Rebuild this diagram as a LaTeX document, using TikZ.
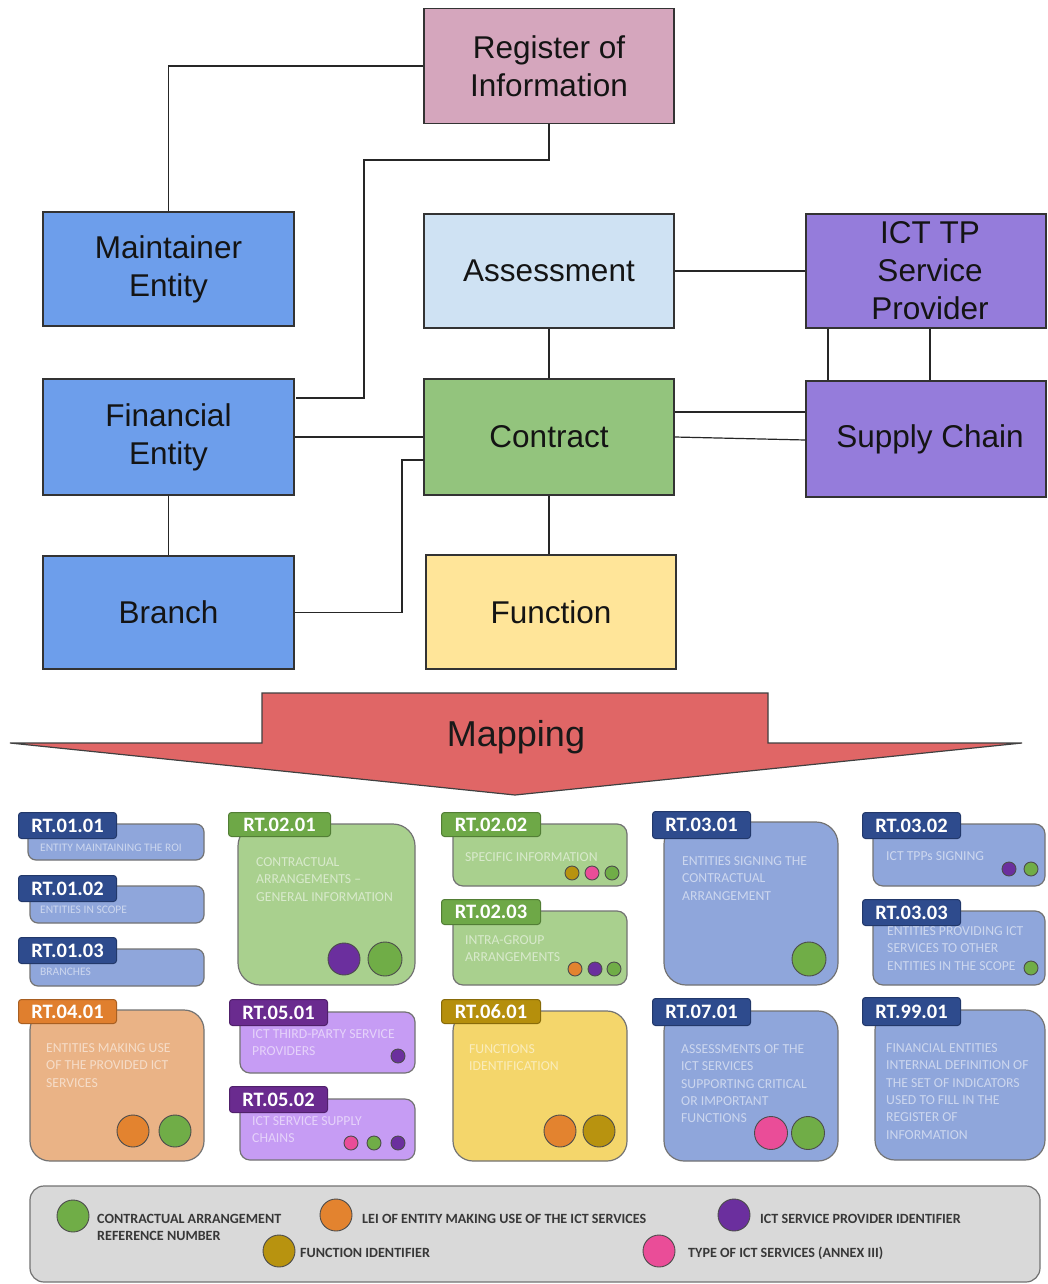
\documentclass[tikz,border=0pt]{standalone}
\usepackage{fontspec}
\setmainfont{Liberation Sans}
\newfontfamily\cardfont{Carlito}
\definecolor{regpink}{HTML}{D5A6BD}
\definecolor{boxblue}{HTML}{6D9EEB}
\definecolor{assessblue}{HTML}{CFE2F3}
\definecolor{contractgreen}{HTML}{93C47D}
\definecolor{funcyellow}{HTML}{FFE599}
\definecolor{ictpurple}{HTML}{957CDB}
\definecolor{arrowred}{HTML}{E06666}
\definecolor{cardblue}{HTML}{8FA6DB}
\definecolor{tagblue}{HTML}{2E4B8D}
\definecolor{cardgreen}{HTML}{A9D08E}
\definecolor{taggreen}{HTML}{6EA847}
\definecolor{cardorange}{HTML}{EAB386}
\definecolor{tagorange}{HTML}{E07F2E}
\definecolor{cardpurple}{HTML}{C69CF4}
\definecolor{tagpurple}{HTML}{6A2B8F}
\definecolor{cardyellow}{HTML}{F4D66B}
\definecolor{tagyellow}{HTML}{B58F0C}
\definecolor{cgreen}{HTML}{70AD47}
\definecolor{corange}{HTML}{E3832F}
\definecolor{cpurple}{HTML}{6B2F9E}
\definecolor{cgold}{HTML}{B8930F}
\definecolor{cpink}{HTML}{EA4D98}
\definecolor{legendgray}{HTML}{D9D9D9}
\begin{document}
\begin{tikzpicture}[x=1pt,y=-1pt,
  mainbox/.style={draw=black!80, line width=1.3pt, minimum width=250pt, minimum height=115pt, inner sep=0pt, align=center, text=black!92, font=\fontsize{31.5}{38}\selectfont},
  conn/.style={draw=black!85, line width=1.2pt},
  card/.style={draw=black!55, line width=1.2pt, inner sep=0pt},
  tagbox/.style={draw=#1!75!black, fill=#1, line width=1pt, rounded corners=3pt, minimum width=98pt, minimum height=26pt, inner sep=0pt, text=white, font=\cardfont\bfseries\fontsize{20.5}{20.5}\selectfont, anchor=north west},
  ctext/.style={text=white, text opacity=0.55, font=\cardfont\fontsize{13.7}{17.3}\selectfont, align=left, inner sep=0pt, anchor=north west},
  stext/.style={ctext, font=\cardfont\fontsize{11.5}{12}\selectfont},
  dot/.style={circle, draw=black!70, line width=0.9pt, fill=#1, inner sep=0pt},
  bigdot/.style={dot=#1, minimum size=32pt},
  smalldot/.style={dot=#1, minimum size=14pt},
  ltext/.style={text=black!78, font=\cardfont\bfseries\fontsize{14.1}{17}\selectfont, align=left, inner sep=0pt, anchor=west}
]
\useasboundingbox (0,0) rectangle (1047,1284);
\fill[white] (0,0) rectangle (1047,1284);

% ---------- top diagram ----------
\node[mainbox, fill=regpink] (reg) at (549,66) {Register of\\Information};
\node[mainbox, fill=boxblue, minimum width=251pt, minimum height=114pt] (maint) at (168.5,269) {Maintainer\\Entity};
\node[mainbox, fill=boxblue, minimum width=251pt, minimum height=116pt] (fin) at (168.5,437) {Financial\\Entity};
\node[mainbox, fill=boxblue, minimum width=251pt, minimum height=113pt] (branch) at (168.5,612.5) {Branch};
\node[mainbox, fill=assessblue, minimum height=114pt] (assess) at (549,271) {Assessment};
\node[mainbox, fill=contractgreen, minimum height=116pt] (contract) at (549,437) {Contract};
\node[mainbox, fill=funcyellow, minimum height=114pt] (func) at (551,612) {Function};
\node[mainbox, fill=ictpurple, minimum width=240pt, minimum height=114pt] (ict) at (926,271) {\hspace*{8pt}ICT TP\\\hspace*{8pt}Service\\\hspace*{8pt}Provider};
\node[mainbox, fill=ictpurple, minimum width=240pt, minimum height=116pt] (supply) at (926,439) {\hspace*{8pt}Supply Chain};

\coordinate (r1) at (549,160);
\coordinate (r2) at (364,160);
\coordinate (r3) at (364,398);
\coordinate (r4) at (296,398);
\coordinate (b1) at (402,612.5);
\coordinate (b2) at (402,460);
\coordinate (b3) at (424,460);

\draw[conn] (reg.west) -| (maint.north);
\draw[conn] (reg.south) -- (r1) -- (r2) -- (r3) -- (r4);
\draw[conn] (assess.south) -- (contract.north);
\draw[conn] (assess.east) -- (ict.west);
\draw[conn] (fin.east) -- (contract.west);
\draw[conn] (branch.east) -- (b1) -- (b2) -- (b3);
\draw[conn] (contract.south) -- (contract.south |- func.north);
\draw[conn] (fin.south) -- (branch.north);
\draw[conn] ([yshift=25pt]contract.east) -- ([yshift=27pt]supply.west);
\draw[conn] (contract.east) -- ([yshift=-1pt]supply.west);
\draw[conn] ([xshift=-98pt]ict.south) -- ([xshift=-98pt]supply.north);
\draw[conn] ([xshift=4pt]ict.south) -- ([xshift=4pt]supply.north);

% ---------- mapping arrow ----------
\path[draw=black!75, fill=arrowred, line width=1.2pt, line join=miter]
  (262,693) -- (768,693) -- (768,743) -- (1022,743) -- (515,795) -- (10,743) -- (262,743) -- cycle;
\node[anchor=base, inner sep=0pt, font=\fontsize{36}{36}\selectfont, text=black!90] (map) at (516,746) {Mapping};

% ---------- cards ----------
% column 1
\node[card, fill=cardblue, rounded corners=8pt, minimum width=176pt, minimum height=36pt] (k0101) at (116,842) {};
\node[tagbox=tagblue] (t0101) at (18,812) {RT.01.01};
\node[stext] (x0101) at (40,844) {ENTITY MAINTAINING THE ROI};

\node[card, fill=cardblue, rounded corners=8pt, minimum width=174pt, minimum height=37pt] (k0102) at (117,904.5) {};
\node[tagbox=tagblue] (t0102) at (18,875) {RT.01.02};
\node[stext] (x0102) at (40,906) {ENTITIES IN SCOPE};

\node[card, fill=cardblue, rounded corners=8pt, minimum width=174pt, minimum height=37pt] (k0103) at (117,967.5) {};
\node[tagbox=tagblue] (t0103) at (18,937) {RT.01.03};
\node[stext] (x0103) at (40,968) {BRANCHES};

\node[card, fill=cardorange, rounded corners=20pt, minimum width=174pt, minimum height=151pt] (k0401) at (117,1085.5) {};
\node[tagbox=tagorange, minimum height=24pt] (t0401) at (18,999) {RT.04.01};
\node[ctext] (x0401) at (46,1043.5) {ENTITIES MAKING USE\\OF THE PROVIDED ICT\\SERVICES};
\node[bigdot=corange] (d0401a) at (133,1131) {};
\node[bigdot=cgreen] (d0401b) at (175,1131) {};

% column 2
\node[card, fill=cardgreen, rounded corners=22pt, minimum width=177pt, minimum height=161pt] (k0201) at (326.5,904.5) {};
\node[tagbox=taggreen, minimum width=102pt, minimum height=24pt] (t0201) at (228,812) {RT.02.01};
\node[ctext] (x0201) at (256,857.5) {CONTRACTUAL\\ARRANGEMENTS –\\GENERAL INFORMATION};
\node[bigdot=cpurple] (d0201a) at (344,959) {};
\node[bigdot=cgreen, minimum size=34pt] (d0201b) at (385,959) {};

\node[card, fill=cardpurple, rounded corners=10pt, minimum width=175pt, minimum height=61pt] (k0501) at (327.5,1042.5) {};
\node[tagbox=tagpurple] (t0501) at (229,999) {RT.05.01};
\node[ctext] (x0501) at (252,1029.5) {ICT THIRD-PARTY SERVICE\\PROVIDERS};
\node[smalldot=cpurple] (d0501) at (398,1056) {};

\node[card, fill=cardpurple, rounded corners=10pt, minimum width=175pt, minimum height=61pt] (k0502) at (327.5,1129.5) {};
\node[tagbox=tagpurple] (t0502) at (229,1086) {RT.05.02};
\node[ctext] (x0502) at (252,1116.5) {ICT SERVICE SUPPLY\\CHAINS};
\node[smalldot=cpink] (d0502a) at (351,1143) {};
\node[smalldot=cgreen] (d0502b) at (374,1143) {};
\node[smalldot=cpurple] (d0502c) at (398,1143) {};

% column 3
\node[card, fill=cardgreen, rounded corners=10pt, minimum width=174pt, minimum height=62pt] (k0202) at (540,855) {};
\node[tagbox=taggreen, minimum width=99pt, minimum height=24pt] (t0202) at (441,812) {RT.02.02};
\node[ctext] (x0202) at (465,852.5) {SPECIFIC INFORMATION};
\node[smalldot=cgold] (d0202a) at (572,873) {};
\node[smalldot=cpink] (d0202b) at (592,873) {};
\node[smalldot=cgreen] (d0202c) at (612,873) {};

\node[card, fill=cardgreen, rounded corners=10pt, minimum width=174pt, minimum height=74pt] (k0203) at (540,948) {};
\node[tagbox=taggreen, minimum width=99pt, minimum height=25pt] (t0203) at (441,899) {RT.02.03};
\node[ctext] (x0203) at (465,935.5) {INTRA-GROUP\\ARRANGEMENTS};
\node[smalldot=corange] (d0203a) at (575,969) {};
\node[smalldot=cpurple] (d0203b) at (595,969) {};
\node[smalldot=cgreen] (d0203c) at (614,969) {};

\node[card, fill=cardyellow, rounded corners=20pt, minimum width=174pt, minimum height=150pt] (k0601) at (540,1086) {};
\node[tagbox=tagyellow, minimum width=99pt, minimum height=24pt] (t0601) at (441,999) {RT.06.01};
\node[ctext] (x0601) at (469,1044.5) {FUNCTIONS\\IDENTIFICATION};
\node[bigdot=corange] (d0601a) at (560,1131) {};
\node[bigdot=cgold] (d0601b) at (599,1131) {};

% column 4
\node[card, fill=cardblue, rounded corners=22pt, minimum width=174pt, minimum height=163pt] (k0301) at (751,903.5) {};
\node[tagbox=tagblue, minimum height=27pt] (t0301) at (652,811) {RT.03.01};
\node[ctext] (x0301) at (682,856.5) {ENTITIES SIGNING THE\\CONTRACTUAL\\ARRANGEMENT};
\node[bigdot=cgreen, minimum size=34pt] (d0301) at (809,959) {};

\node[card, fill=cardblue, rounded corners=20pt, minimum width=174pt, minimum height=150pt] (k0701) at (751,1086) {};
\node[tagbox=tagblue, minimum height=27pt] (t0701) at (652,998) {RT.07.01};
\node[ctext] (x0701) at (681,1044.5) {ASSESSMENTS OF THE\\ICT SERVICES\\SUPPORTING CRITICAL\\OR IMPORTANT\\FUNCTIONS};
\node[bigdot=cpink, minimum size=33pt] (d0701a) at (771,1133) {};
\node[bigdot=cgreen, minimum size=33pt] (d0701b) at (808,1133) {};

% column 5
\node[card, fill=cardblue, rounded corners=10pt, minimum width=172pt, minimum height=62pt] (k0302) at (959,855) {};
\node[tagbox=tagblue] (t0302) at (862,812) {RT.03.02};
\node[ctext] (x0302) at (886,851.5) {ICT TPPs SIGNING};
\node[smalldot=cpurple] (d0302a) at (1009,869) {};
\node[smalldot=cgreen] (d0302b) at (1031,869) {};

\node[card, fill=cardblue, rounded corners=10pt, minimum width=172pt, minimum height=74pt] (k0303) at (959,948) {};
\node[tagbox=tagblue] (t0303) at (862,899) {RT.03.03};
\node[ctext] (x0303) at (887,926.5) {ENTITIES PROVIDING ICT\\SERVICES TO OTHER\\ENTITIES IN THE SCOPE};
\node[smalldot=cgreen] (d0303) at (1031,968) {};

\node[card, fill=cardblue, rounded corners=20pt, minimum width=170pt, minimum height=150pt] (k9901) at (960,1085) {};
\node[tagbox=tagblue, minimum height=28pt] (t9901) at (862,997) {RT.99.01};
\node[ctext] (x9901) at (886,1043.5) {FINANCIAL ENTITIES\\INTERNAL DEFINITION OF\\THE SET OF INDICATORS\\USED TO FILL IN THE\\REGISTER OF\\INFORMATION};

% ---------- legend ----------
\node[draw=black!55, fill=legendgray, rounded corners=14pt, line width=1.2pt, minimum width=1010pt, minimum height=96pt, inner sep=0pt] (legend) at (535,1234) {};
\node[bigdot=cgreen] (lg1) at (73,1216) {};
\node[ltext] (lt1) at (97,1227.5) {CONTRACTUAL ARRANGEMENT\\REFERENCE NUMBER};
\node[bigdot=corange] (lg2) at (336,1215) {};
\node[ltext] (lt2) at (362,1219) {LEI OF ENTITY MAKING USE OF THE ICT SERVICES};
\node[bigdot=cpurple] (lg3) at (734,1215) {};
\node[ltext] (lt3) at (760,1219) {ICT SERVICE PROVIDER IDENTIFIER};
\node[bigdot=cgold] (lg4) at (279,1251) {};
\node[ltext] (lt4) at (300,1253) {FUNCTION IDENTIFIER};
\node[bigdot=cpink] (lg5) at (659,1251) {};
\node[ltext] (lt5) at (688,1253) {TYPE OF ICT SERVICES (ANNEX III)};
\end{tikzpicture}
\end{document}
